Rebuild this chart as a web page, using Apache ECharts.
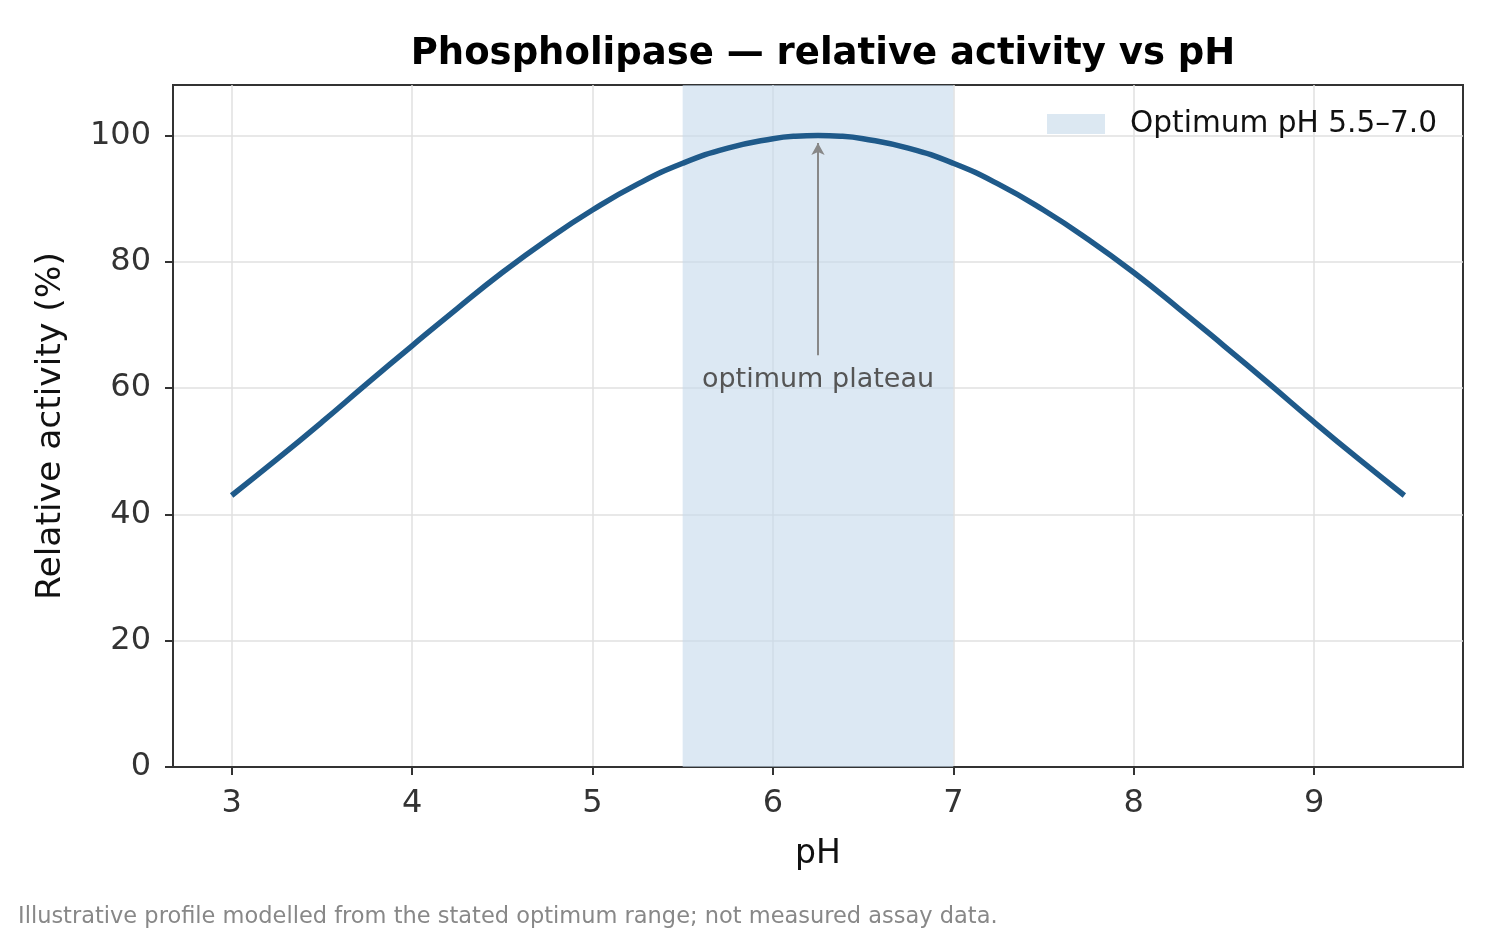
<!DOCTYPE html>
<html>
<head>
<meta charset="utf-8">
<script src="https://cdn.jsdelivr.net/npm/echarts@6/dist/echarts.min.js"></script>
<style>
  html, body { margin: 0; padding: 0; background: #fff; }
  #chart { width: 1500px; height: 937px; }
</style>
</head>
<body>
<div id="chart"></div>
<script>
// pH values and relative activity
var ph = [3, 3.25, 3.5, 3.75, 4, 4.25, 4.5, 4.75, 5, 5.25, 5.5, 5.75, 6, 6.125, 6.25,
          6.375, 6.5, 6.75, 7, 7.25, 7.5, 7.75, 8, 8.25, 8.5, 8.75, 9, 9.25, 9.5];
var activity = [43.0, 48.7, 54.6, 60.7, 66.7, 72.6, 78.3, 83.5, 88.2, 92.3, 95.6, 98.0, 99.5, 99.9, 100,
                99.9, 99.5, 98.0, 95.6, 92.3, 88.2, 83.5, 78.3, 72.6, 66.7, 60.7, 54.6, 48.7, 43.0];
var optimumRange = [5.5, 7.0];
var peakPh = 6.25;
var arrowFrom = 65.2;
var arrowTo = 98.8;
var xTicks = [3, 4, 5, 6, 7, 8, 9];
var yTicks = [0, 20, 40, 60, 80, 100];

var font = 'DejaVu Sans';
var chart = echarts.init(document.getElementById('chart'));

var option = {
    animation: false,
    title: {
        text: 'Phospholipase — relative activity vs pH',
        left: 818,
        textAlign: 'center',
        top: 31,
        textStyle: { fontFamily: font, fontSize: 37, fontWeight: 'bold', color: '#000' }
    },
    legend: {
        left: 1042,
        top: 104,
        itemWidth: 58,
        itemHeight: 20,
        data: [{ name: 'Optimum pH 5.5–7.0', icon: 'rect' }],
        textStyle: { fontFamily: font, fontSize: 29.6, color: '#111', padding: [0, 0, 0, 20] }
    },
    grid: {
        left: 173, right: 37, top: 85, bottom: 170,
        show: true, borderColor: '#333', borderWidth: 2
    },
    xAxis: {
        type: 'value',
        min: 2.675,
        max: 9.825,
        name: 'pH',
        nameLocation: 'middle',
        nameGap: 71,
        nameTextStyle: { fontFamily: font, fontSize: 33, color: '#111' },
        axisLine: { show: true, lineStyle: { color: '#333', width: 2 } },
        axisTick: { show: true, length: 8, lineStyle: { color: '#333', width: 2 },
            customValues: xTicks },
        axisLabel: { fontFamily: font, fontSize: 32, color: '#333', margin: 21,
            customValues: xTicks },
        splitLine: { show: true, lineStyle: { color: '#e0e0e0', width: 1.5 } }
    },
    yAxis: {
        type: 'value',
        min: 0,
        max: 108,
        interval: 20,
        name: 'Relative activity (%)',
        nameLocation: 'middle',
        nameGap: 104,
        nameTextStyle: { fontFamily: font, fontSize: 34.5, color: '#111' },
        axisLine: { show: true, lineStyle: { color: '#333', width: 2 } },
        axisTick: { show: true, length: 8, lineStyle: { color: '#333', width: 2 },
            customValues: yTicks },
        axisLabel: { fontFamily: font, fontSize: 32, color: '#333', margin: 22,
            customValues: yTicks },
        splitLine: { show: true, lineStyle: { color: '#e0e0e0', width: 1.5 } }
    },
    series: [
        {
            name: 'Optimum pH 5.5–7.0',
            type: 'line',
            data: [],
            itemStyle: { color: '#dce8f2' },
            lineStyle: { width: 0 },
            markArea: {
                silent: true,
                itemStyle: { color: 'rgba(196, 217, 235, 0.6)' },
                data: [[{ xAxis: optimumRange[0] }, { xAxis: optimumRange[1] }]]
            }
        },
        {
            name: 'activity',
            type: 'line',
            smooth: true,
            showSymbol: false,
            data: ph.map(function (p, i) { return [p, activity[i]]; }),
            lineStyle: { color: '#1f5a8a', width: 5.5 },
            itemStyle: { color: '#1f5a8a' },
            z: 3,
            markLine: {
                silent: true,
                symbol: ['none', 'arrow'],
                symbolSize: [10, 12],
                lineStyle: { color: '#888', width: 2, type: 'solid' },
                label: {
                    show: true,
                    position: 'start',
                    distance: 11,
                    formatter: 'optimum plateau',
                    fontFamily: font,
                    fontSize: 27,
                    color: '#555'
                },
                data: [[{ coord: [peakPh, arrowFrom] }, { coord: [peakPh, arrowTo] }]]
            }
        }
    ],
    graphic: [{
        type: 'text',
        left: 18,
        top: 906,
        style: {
            text: 'Illustrative profile modelled from the stated optimum range; not measured assay data.',
            fontFamily: font,
            fontSize: 22.5,
            fill: '#888'
        }
    }]
};

chart.setOption(option);
</script>
</body>
</html>
